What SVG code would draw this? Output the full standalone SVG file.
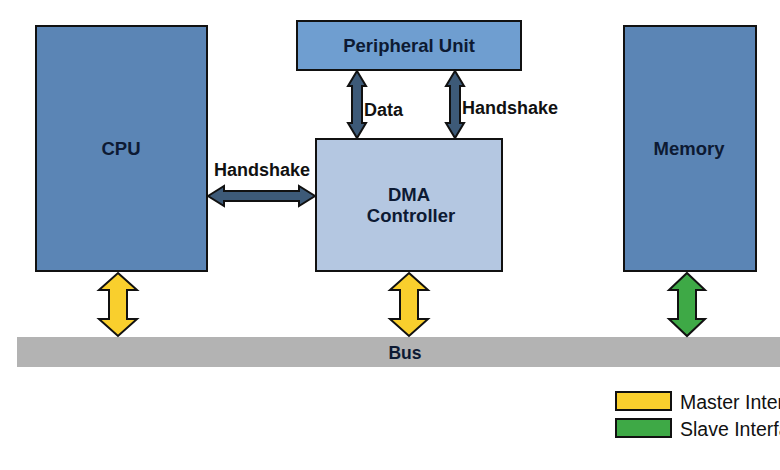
<svg xmlns="http://www.w3.org/2000/svg" width="780" height="470" viewBox="0 0 780 470">
<style>
.box{stroke:#111;stroke-width:2}
.lbl{font-family:"Liberation Sans",Arial,sans-serif;font-weight:bold;font-size:18.5px;fill:#0d1a33;text-anchor:middle}
.al{font-family:"Liberation Sans",Arial,sans-serif;font-weight:bold;font-size:18px;fill:#111}
.leg{font-family:"Liberation Sans",Arial,sans-serif;font-size:19.5px;fill:#111}
.dark{fill:#3d5a78;stroke:#111;stroke-width:2;stroke-linejoin:miter}
.yel{fill:#f9cf2d;stroke:#111;stroke-width:2}
.grn{fill:#3ea946;stroke:#111;stroke-width:2}
</style>
<rect width="780" height="470" fill="#fff"/>
<g id="bus"><rect x="17" y="337" width="770" height="30" fill="#b3b3b3"/><text class="lbl" x="405" y="359" style="font-size:17.5px">Bus</text></g>
<g id="cpu"><rect class="box" x="36" y="26" width="171" height="245" fill="#5b85b5"/><text class="lbl" x="121" y="155">CPU</text></g>
<g id="memory"><rect class="box" x="624" y="26" width="132" height="245" fill="#5b85b5"/><text class="lbl" x="689" y="155">Memory</text></g>
<g id="peripheral"><rect class="box" x="297" y="21" width="224" height="49" fill="#6f9ed0"/><text class="lbl" x="409" y="52">Peripheral Unit</text></g>
<g id="dma"><rect class="box" x="316" y="139" width="186" height="132" fill="#b4c7e1"/><text class="lbl" x="409" y="201">DMA</text><text class="lbl" x="411" y="222">Controller</text></g>
<g id="connectors">
<path class="dark" d="M357 71 L366 86 L362 86 L362 123 L366 123 L357 138 L348 123 L352 123 L352 86 L348 86 Z"/>
<text class="al" x="364" y="116">Data</text>
<path class="dark" d="M455 71 L464 86 L460 86 L460 123 L464 123 L455 138 L446 123 L450 123 L450 86 L446 86 Z"/>
<text class="al" x="462" y="114">Handshake</text>
<path class="dark" d="M208 196 L224 186 L224 191 L299 191 L299 186 L315 196 L299 206 L299 201 L224 201 L224 206 Z"/>
<text class="al" x="214" y="176">Handshake</text>
<path class="yel" d="M118 273 L137 290 L127 290 L127 319 L137 319 L118 336 L99 319 L109 319 L109 290 L99 290 Z"/>
<path class="yel" d="M409 273 L428 290 L418 290 L418 319 L428 319 L409 336 L390 319 L400 319 L400 290 L390 290 Z"/>
<path class="grn" d="M687 273 L705 290 L696 290 L696 319 L705 319 L687 336 L669 319 L678 319 L678 290 L669 290 Z"/>
</g>
<g id="legend">
<rect x="616" y="392" width="55" height="18" fill="#f9cf2d" stroke="#111" stroke-width="2"/>
<text class="leg" x="680" y="409">Master Interface</text>
<rect x="616" y="419" width="55" height="18" fill="#3ea946" stroke="#111" stroke-width="2"/>
<text class="leg" x="680" y="436">Slave Interface</text>
</g>
</svg>
